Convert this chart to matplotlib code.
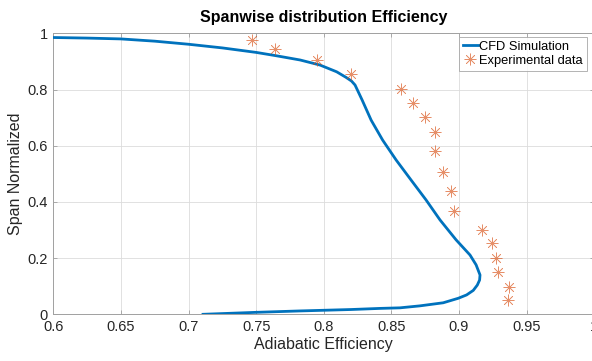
import matplotlib
matplotlib.use("Agg")
import matplotlib.pyplot as plt

plt.rcParams['font.family'] = ['Liberation Sans', 'DejaVu Sans']

# CFD spanwise efficiency profile (efficiency, normalized span), hub to tip
cfd_eff = [0.7107, 0.75, 0.7825, 0.82, 0.8416, 0.8563, 0.871, 0.8883, 0.8994,
           0.9056, 0.9105, 0.9135, 0.9152, 0.9155, 0.9126, 0.9081, 0.8978, 0.8859,
           0.8756, 0.8645, 0.8535, 0.8435, 0.8350, 0.8283, 0.8231, 0.8205,
           0.8165, 0.8095, 0.7972, 0.7825, 0.765, 0.75, 0.725, 0.70, 0.675, 0.65,
           0.625, 0.60]
cfd_span = [0.000, 0.007, 0.012, 0.017, 0.021, 0.023, 0.030, 0.041, 0.057,
            0.069, 0.085, 0.104, 0.122, 0.140, 0.176, 0.211, 0.265, 0.336,
            0.407, 0.478, 0.549, 0.620, 0.691, 0.763, 0.816, 0.830,
            0.843, 0.863, 0.887, 0.905, 0.920, 0.932, 0.948, 0.961, 0.972, 0.980,
            0.983, 0.985]

# Measured data
exp_eff = [0.747, 0.764, 0.795, 0.820, 0.857, 0.866, 0.875, 0.882, 0.882, 0.888,
           0.894, 0.896, 0.917, 0.924, 0.927, 0.929, 0.937, 0.936]
exp_span = [0.976, 0.943, 0.905, 0.855, 0.801, 0.751, 0.701, 0.650, 0.580, 0.507,
            0.439, 0.369, 0.299, 0.253, 0.199, 0.149, 0.098, 0.050]

x_ticks = [0.6, 0.65, 0.7, 0.75, 0.8, 0.85, 0.9, 0.95, 1.0]
x_tick_labels = ['0.6', '0.65', '0.7', '0.75', '0.8', '0.85', '0.9', '0.95', '1']
y_ticks = [0, 0.2, 0.4, 0.6, 0.8, 1.0]
y_tick_labels = ['0', '0.2', '0.4', '0.6', '0.8', '1']

W, H = 592, 361
fig = plt.figure(figsize=(W / 100, H / 100), dpi=100)
left, right, top, bottom = 53.3, 594.3, 33.3, 314.3
ax = fig.add_axes([left / W, 1 - bottom / H, (right - left) / W, (bottom - top) / H])

ax.plot(cfd_eff, cfd_span, color='#0072BD', lw=2.0, label='CFD Simulation',
        solid_joinstyle='round', zorder=3)
ax.plot(exp_eff, exp_span, linestyle='none', marker=(8, 2, 0), markersize=8.5,
        markeredgewidth=0.5, color='#D95319', alpha=0.65,
        label='Experimental data', zorder=3)

ax.set_xlim(0.6, 1.0)
ax.set_ylim(0, 1)
ax.set_xticks(x_ticks)
ax.set_xticklabels(x_tick_labels)
ax.set_yticks(y_ticks)
ax.set_yticklabels(y_tick_labels)
ax.grid(True, color='#DCDCDC', lw=0.6)
ax.set_axisbelow(True)
ax.tick_params(direction='in', length=3, width=0.6, colors='#A0A0A0',
               labelcolor='#262626', labelsize=10.5, top=True, right=True, pad=4)
for s in ax.spines.values():
    s.set_color('#A0A0A0')
    s.set_linewidth(0.7)

ax.set_xlabel('Adiabatic Efficiency', fontsize=11.5, color='#262626', labelpad=2)
ax.set_ylabel('Span Normalized', fontsize=11.5, color='#262626', labelpad=3)
ax.set_title('Spanwise distribution Efficiency', fontsize=11.5, fontweight='bold',
             pad=8)

leg = ax.legend(loc='upper right', bbox_to_anchor=(587 / W, 1 - 37 / H),
                bbox_transform=fig.transFigure, fontsize=9.3, frameon=True,
                fancybox=False, borderpad=0.3, handlelength=1.1,
                handletextpad=0.15, labelspacing=0.15, borderaxespad=0)
leg.get_frame().set_edgecolor('#A0A0A0')
leg.get_frame().set_linewidth(0.7)

fig.savefig('out.png', dpi=100)
